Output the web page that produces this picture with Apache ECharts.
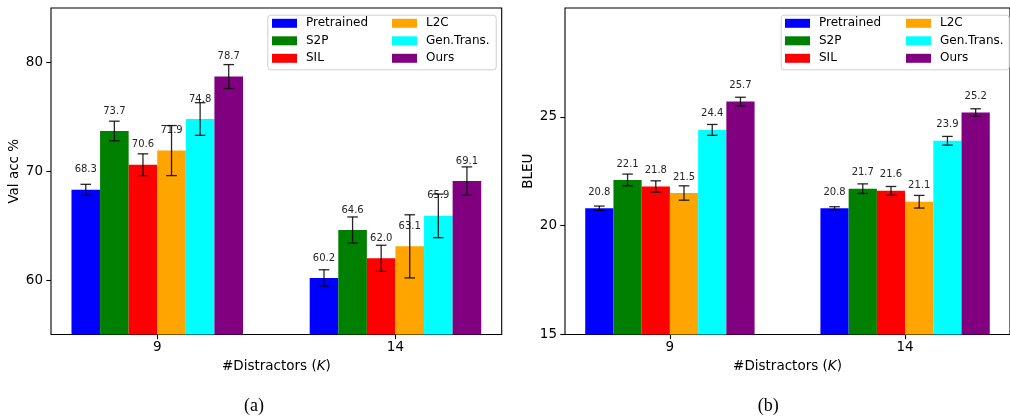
<!DOCTYPE html>
<html>
<head>
<meta charset="utf-8">
<script src="https://cdn.jsdelivr.net/npm/echarts@6/dist/echarts.min.js"></script>
<style>
html,body{margin:0;padding:0;background:#fff;}
#chart{width:1010px;height:417px;}
</style>
</head>
<body>
<div id="chart"></div>
<script>
const categories = ['9', '14'];
const methods = ['Pretrained', 'S2P', 'SIL', 'L2C', 'Gen.Trans.', 'Ours'];
const colors = ['#0000ff', '#008000', '#ff0000', '#ffa500', '#00ffff', '#800080'];
// values per method: [K=9, K=14]
const accValues = [[68.3, 60.2], [73.7, 64.6], [70.6, 62.0], [71.9, 63.1], [74.8, 65.9], [78.7, 69.1]];
const accErrors = [[0.5, 0.75], [0.9, 1.2], [1.0, 1.2], [2.3, 2.9], [1.5, 2.0], [1.1, 1.3]];
const bleuValues = [[20.8, 20.8], [22.1, 21.7], [21.8, 21.6], [21.5, 21.1], [24.4, 23.9], [25.7, 25.2]];
const bleuErrors = [[0.1, 0.07], [0.27, 0.22], [0.26, 0.2], [0.33, 0.29], [0.25, 0.2], [0.2, 0.17]];
const accTicks = [60, 70, 80];
const bleuTicks = [15, 20, 25];

const BW = 0.12;
const FONT = 'DejaVu Sans';
const chart = echarts.init(document.getElementById('chart'), null, {renderer: 'canvas'});

function barRender(offset) {
  return function (params, api) {
    const x = api.value(0) + offset;
    const v = api.value(1);
    const p1 = api.coord([x - BW / 2, v]);
    const p2 = api.coord([x + BW / 2, v]);
    const cs = params.coordSys;
    const bottom = cs.y + cs.height;
    return {
      type: 'rect',
      shape: {x: p1[0], y: p1[1], width: p2[0] - p1[0], height: bottom - p1[1]},
      style: {fill: api.visual('color')}
    };
  };
}

function annRender(labelOffset) {
  return function (params, api) {
    const x = api.value(0);
    const v = api.value(1);
    const e = api.value(2);
    const top = api.coord([x, v]);
    const hi = api.coord([x, v + e]);
    const lo = api.coord([x, v - e]);
    const cw = 5.3;
    const ls = {stroke: 'rgba(0,0,0,0.85)', lineWidth: 1.3};
    return {
      type: 'group',
      children: [
        {type: 'text', style: {text: v.toFixed(1), x: top[0], y: top[1] - labelOffset, align: 'center', verticalAlign: 'middle', fill: '#262626', font: '10px ' + FONT}},
        {type: 'line', shape: {x1: hi[0], y1: hi[1], x2: lo[0], y2: lo[1]}, style: ls},
        {type: 'line', shape: {x1: hi[0] - cw, y1: hi[1], x2: hi[0] + cw, y2: hi[1]}, style: ls},
        {type: 'line', shape: {x1: lo[0] - cw, y1: lo[1], x2: lo[0] + cw, y2: lo[1]}, style: ls}
      ]
    };
  };
}

function panelSeries(idx, values, errors, labelOffset) {
  const s = [];
  const ann = [];
  methods.forEach(function (m, i) {
    const off = (i - 2.5) * BW;
    s.push({
      type: 'custom',
      name: m,
      xAxisIndex: idx,
      yAxisIndex: idx,
      itemStyle: {color: colors[i]},
      encode: {x: 0, y: 1},
      renderItem: barRender(off),
      z: 2,
      data: categories.map(function (c, g) { return [g, values[i][g]]; })
    });
    categories.forEach(function (c, g) {
      ann.push([g + off, values[i][g], errors[i][g]]);
    });
  });
  s.push({
    type: 'custom',
    name: 'ann' + idx,
    xAxisIndex: idx,
    yAxisIndex: idx,
    encode: {x: 0, y: 1},
    renderItem: annRender(labelOffset),
    z: 5,
    silent: true,
    data: ann
  });
  return s;
}

const xAxisCommon = function (idx) {
  return {
    type: 'value',
    gridIndex: idx,
    min: -0.446,
    max: 1.446,
    splitLine: {show: false},
    axisLine: {show: false, onZero: false},
    axisTick: {show: true, customValues: [0, 1], length: 4.7, lineStyle: {color: '#000', width: 1.1}},
    axisLabel: {customValues: [0, 1], margin: 6, color: '#000', fontSize: 13.5, fontFamily: FONT,
      formatter: function (v) { return categories[Math.round(v)]; }},
    name: '#Distractors ({i|K})',
    nameLocation: 'middle',
    nameGap: 23,
    nameTextStyle: {color: '#000', fontSize: 13.5, fontFamily: FONT,
      rich: {i: {fontStyle: 'italic', fontSize: 13.5, fontFamily: FONT, color: '#000'}}}
  };
};

const yAxisCommon = function (idx, min, max, ticks, name) {
  return {
    type: 'value',
    gridIndex: idx,
    min: min,
    max: max,
    splitLine: {show: false},
    axisLine: {show: false, onZero: false},
    axisTick: {show: true, customValues: ticks, length: 4.7, lineStyle: {color: '#000', width: 1.1}},
    axisLabel: {customValues: ticks, margin: 8, color: '#000', fontSize: 13.5, fontFamily: FONT},
    name: name,
    nameLocation: 'middle',
    nameGap: 29,
    nameRotate: 90,
    nameTextStyle: {color: '#000', fontSize: 13.5, fontFamily: FONT}
  };
};

function legendCol(left, names) {
  return {
    orient: 'vertical',
    left: left,
    top: 16.3,
    padding: 0,
    itemWidth: 25,
    itemHeight: 9,
    itemGap: 3.5,
    icon: 'rect',
    selectedMode: false,
    data: names,
    textStyle: {fontSize: 12, fontFamily: FONT, color: '#000', lineHeight: 14, padding: [0, 0, 0, 4]}
  };
}

const option = {
  animation: false,
  backgroundColor: '#fff',
  grid: [
    {left: 51, top: 8, width: 450.7, height: 326.5, show: true, borderColor: '#000', borderWidth: 1.1, backgroundColor: 'transparent'},
    {left: 565, top: 8, width: 450, height: 326.5, show: true, borderColor: '#000', borderWidth: 1.1, backgroundColor: 'transparent'}
  ],
  xAxis: [xAxisCommon(0), xAxisCommon(1)],
  yAxis: [yAxisCommon(0, 55, 85, accTicks, 'Val acc %'), yAxisCommon(1, 15, 30, bleuTicks, 'BLEU')],
  legend: [
    legendCol(272, methods.slice(0, 3)),
    legendCol(392, methods.slice(3)),
    legendCol(785, methods.slice(0, 3)),
    legendCol(906, methods.slice(3))
  ],
  graphic: [
    {type: 'rect', left: 267.3, top: 14.7, z: 0, shape: {width: 228.4, height: 54.6, r: 3}, style: {fill: 'rgba(255,255,255,0.8)', stroke: '#d0d0d0', lineWidth: 1}},
    {type: 'rect', left: 780.7, top: 14.7, z: 0, shape: {width: 228, height: 54.6, r: 3}, style: {fill: 'rgba(255,255,255,0.8)', stroke: '#d0d0d0', lineWidth: 1}},
    {type: 'text', x: 254, y: 406.7, style: {text: '(a)', align: 'center', verticalAlign: 'middle', font: '18px "Liberation Serif"', fill: '#000'}},
    {type: 'text', x: 768.3, y: 406.7, style: {text: '(b)', align: 'center', verticalAlign: 'middle', font: '18px "Liberation Serif"', fill: '#000'}}
  ],
  series: panelSeries(0, accValues, accErrors, 20).concat(panelSeries(1, bleuValues, bleuErrors, 16))
};
chart.setOption(option);
</script>
</body>
</html>
